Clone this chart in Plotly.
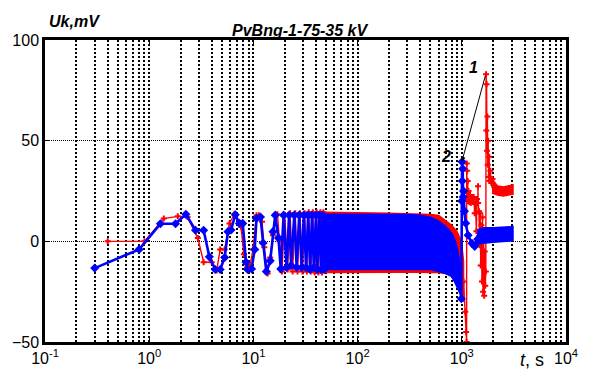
import plotly.graph_objects as go

# ---------------- data ----------------
# curve 1 (red): sparse early part
red_t = [0.4, 0.9, 1.38, 1.88, 2.33, 2.93, 3.33, 3.98, 4.44, 4.8, 5.3, 5.9, 6.6, 7.6, 8.1, 8.7,
         9.3, 9.9, 10.7, 11.3, 12.1, 12.7, 13.7, 14.5, 15.4, 16.2, 17.0, 17.8, 18.8, 20.0, 21.3,
         22.5, 23.8, 25.2, 26.5, 28.0, 29.6, 31.0, 32.6, 34.0, 35.6, 37.2, 38.8, 40.5, 42.0,
         44.0, 45.5, 47.0]
red_v = [0, 0, 11.3, 12.4, 12.1, 1.6, -10.4, -10.4, -14.5, -4, -4, 8.9, 13.7, 7.3, -6.4, -12.9,
         -12, -4, 13, 13, 9.7, -3, -16, -8, 3, 13, 13.5, 0, -15, 13, -14,
         14, -15, 14, -15, 14, -15, 14, -15, 14.5, -15, 14.5, -15.5, 14.5, -15.5,
         14.5, -15.5, 14.5]
# curve 1 (red): dense oscillation band (upper / lower envelope)
red_band_t = [45, 60, 100, 200, 300, 400, 500, 600, 700, 800, 900, 950, 1000, 1040]
red_band_hi = [14.5, 14.5, 14.2, 14, 13.8, 13.7, 13.3, 12.9, 10.5, 8, 4.8, 2, -2, -10]
red_band_lo = [-15.5, -15.5, -15.5, -15.3, -15.2, -15.3, -15.5, -15.5, -16, -17, -19, -22, -26, -30]
# curve 1 (red): after the disturbance
red_late_t = [1040, 1080, 1100, 1112, 1115, 1120, 1125, 1130, 1140, 1150, 1160, 1180, 1200,
              1220, 1250, 1280, 1300, 1330, 1350, 1380, 1400, 1425, 1430, 1435, 1460, 1480,
              1500, 1520, 1540, 1560, 1580, 1600, 1620, 1640, 1660, 1680, 1700, 1710,
              1720, 1730, 1745, 1760, 1775, 1790, 1810, 1830, 1850, 1880, 1920, 1970, 2050, 2150]
red_late_v = [-20, -35, -45, -50, 38.7, 24, 35, 21, 30, 20, 25, 19.5, 23,
              19, 22, 19.5, 22, 14, 19.5, 5, 21, 19, 27.4, 19, 15, -2,
              14, -12, 8, -20, 12, -25, 3, -27, -5, -22, -15, 83,
              55, 78, 45, 62, 38, 50, 32, 42, 30, 35, 29, 31, 27, 26.5]
red_tail_t = [1950, 2200, 2500, 2800, 3100]
red_tail_hi = [31, 27.5, 27, 27.5, 28]
red_tail_lo = [24, 23, 22.5, 23, 23.5]

# curve 2 (blue): sparse early part
blue_t = [0.3, 0.8, 1.28, 1.79, 2.25, 2.78, 3.33, 3.78, 4.3, 4.8, 5.3, 5.7, 6.1, 6.7, 7.35, 7.9,
          8.5, 8.8, 9.6, 10.3, 10.7, 11.7, 12.4, 13.3, 14.5, 15.4, 16.2, 17.4, 18.3, 19.5, 20.8,
          22.0, 23.0, 24.7, 26.0, 27.5, 29.0, 30.5, 32.0, 33.5, 35.0, 36.5, 38.0, 39.8, 41.0,
          43.0, 44.5, 46.0, 48.0]
blue_v = [-13.3, -4, 8.7, 8.7, 13.4, 5.5, 5.5, -7.7, -14, -14, -8, 4.8, 5.6, 13.2, 8.9, 8.9,
          -10.4, -14, -13.7, -4, 11.3, 12.1, -0.8, -15, -9.7, 4.8, 13, 1.6, -13.7, 13, -13,
          13, -12, 13, -13, 13, -13, 13, -13, 13, -14, 13, -13, 13, -14,
          13, -14, 13, -14]
blue_band_t = [45, 60, 100, 200, 300, 400, 500, 600, 700, 800, 870, 920, 960, 990]
blue_band_hi = [13.5, 13.5, 13.5, 13.5, 13.3, 13, 12, 10, 7.5, 4, 0, -5, -12, -20]
blue_band_lo = [-14, -14, -14, -14, -14, -14, -14, -15, -16, -17.5, -21, -23.5, -26, -28.5]
blue_late_t = [990, 1000, 1005, 1010, 1020, 1030, 1040, 1060, 1090, 1150, 1250, 1330, 1420, 1500]
blue_late_v = [-28.5, 20, 39.5, 30, 36, 22, 25, 15, 9, 3, -1, -2.5, 1, 2.5]
blue_tail_t = [1400, 1600, 2000, 2500, 3100]
blue_tail_hi = [5.5, 6.8, 6.8, 7, 7.3]
blue_tail_lo = [-1.5, -1, -0.5, 0, 0.3]

x_tick_vals = [0.1, 1, 10, 100, 1000, 10000]
x_tick_text = ["10<sup>-1</sup>", "10<sup>0</sup>", "10<sup>1</sup>", "10<sup>2</sup>",
               "10<sup>3</sup>", "10<sup>4</sup>"]
y_tick_vals = [-50, 0, 50, 100]

RED = "#ff0000"
BLUE = "#0000ff"
FONT = "Liberation Sans, Arial, sans-serif"


def band(t, hi, lo):
    return t + t[::-1], hi + lo[::-1]


fig = go.Figure()

# red (curve 1) drawn first
for bt, bh, bl in [(red_band_t, red_band_hi, red_band_lo), (red_tail_t, red_tail_hi, red_tail_lo)]:
    bx, by = band(bt, bh, bl)
    fig.add_trace(go.Scatter(x=bx, y=by, fill="toself", fillcolor=RED, mode="lines",
                             line=dict(color=RED, width=1.5), hoverinfo="skip", showlegend=False))
for xs, ys in [(red_t, red_v), (red_late_t, red_late_v)]:
    fig.add_trace(go.Scatter(x=xs, y=ys, mode="lines+markers",
                             line=dict(color=RED, width=1.4),
                             marker=dict(symbol="cross", size=5, color=RED),
                             showlegend=False))

# blue (curve 2) on top
for bt, bh, bl in [(blue_band_t, blue_band_hi, blue_band_lo), (blue_tail_t, blue_tail_hi, blue_tail_lo)]:
    bx, by = band(bt, bh, bl)
    fig.add_trace(go.Scatter(x=bx, y=by, fill="toself", fillcolor=BLUE, mode="lines",
                             line=dict(color=BLUE, width=1.5), hoverinfo="skip", showlegend=False))
for xs, ys in [(blue_t, blue_v), (blue_late_t, blue_late_v)]:
    fig.add_trace(go.Scatter(x=xs, y=ys, mode="lines+markers",
                             line=dict(color=BLUE, width=2.6),
                             marker=dict(symbol="diamond", size=7, color=BLUE),
                             showlegend=False))

fig.update_xaxes(type="log", range=[-1, 4], tickmode="array", tickvals=x_tick_vals,
                 ticktext=x_tick_text, showline=True, linecolor="black", linewidth=2.5,
                 mirror="ticks", ticks="inside", ticklen=4, tickcolor="black",
                 showgrid=True, gridcolor="black", gridwidth=2, griddash="2px,2px",
                 minor=dict(dtick="D1", showgrid=True, gridcolor="black", gridwidth=2,
                            griddash="2px,2px", ticks=""),
                 zeroline=False, tickfont=dict(family=FONT, size=16, color="black"))
fig.update_yaxes(range=[-50, 100], tickmode="array", tickvals=y_tick_vals,
                 showline=True, linecolor="black", linewidth=2.5, mirror="ticks",
                 ticks="inside", ticklen=4, tickcolor="black",
                 showgrid=True, gridcolor="black", gridwidth=1, griddash="1px,1px",
                 zeroline=False, tickfont=dict(family=FONT, size=16, color="black"))

ann_font = dict(family=FONT, size=16, color="black")
fig.update_layout(
    width=590, height=379,
    margin=dict(l=42, r=13, t=40, b=30),
    paper_bgcolor="white", plot_bgcolor="white",
    annotations=[
        dict(text="<b><i>PvBng-1-75-35 kV</i></b>", xref="paper", yref="paper",
             x=0.49, y=1.032, xanchor="center", yanchor="middle", showarrow=False, font=ann_font),
        dict(text="<b><i>Uk,mV</i></b>", xref="paper", yref="paper",
             x=0.056, y=1.06, xanchor="center", yanchor="middle", showarrow=False, font=ann_font),
        dict(text="<i>t</i>, s", xref="paper", yref="paper",
             x=0.935, y=-0.058, xanchor="center", yanchor="middle", showarrow=False,
             font=dict(family=FONT, size=18, color="black")),
        dict(text="<b><i>1</i></b>", xref="x", yref="y", x=3.109, y=86.5,
             showarrow=False, font=ann_font),
        dict(text="<b><i>2</i></b>", xref="x", yref="y", x=2.844, y=42,
             showarrow=False, font=ann_font),
        dict(text="", xref="x", yref="y", x=3.0, y=39.5, axref="x", ayref="y",
             ax=3.23, ay=83, showarrow=True, arrowhead=2, arrowsize=1, arrowwidth=1,
             arrowcolor="black"),
    ],
)

fig.write_html("out.html")
